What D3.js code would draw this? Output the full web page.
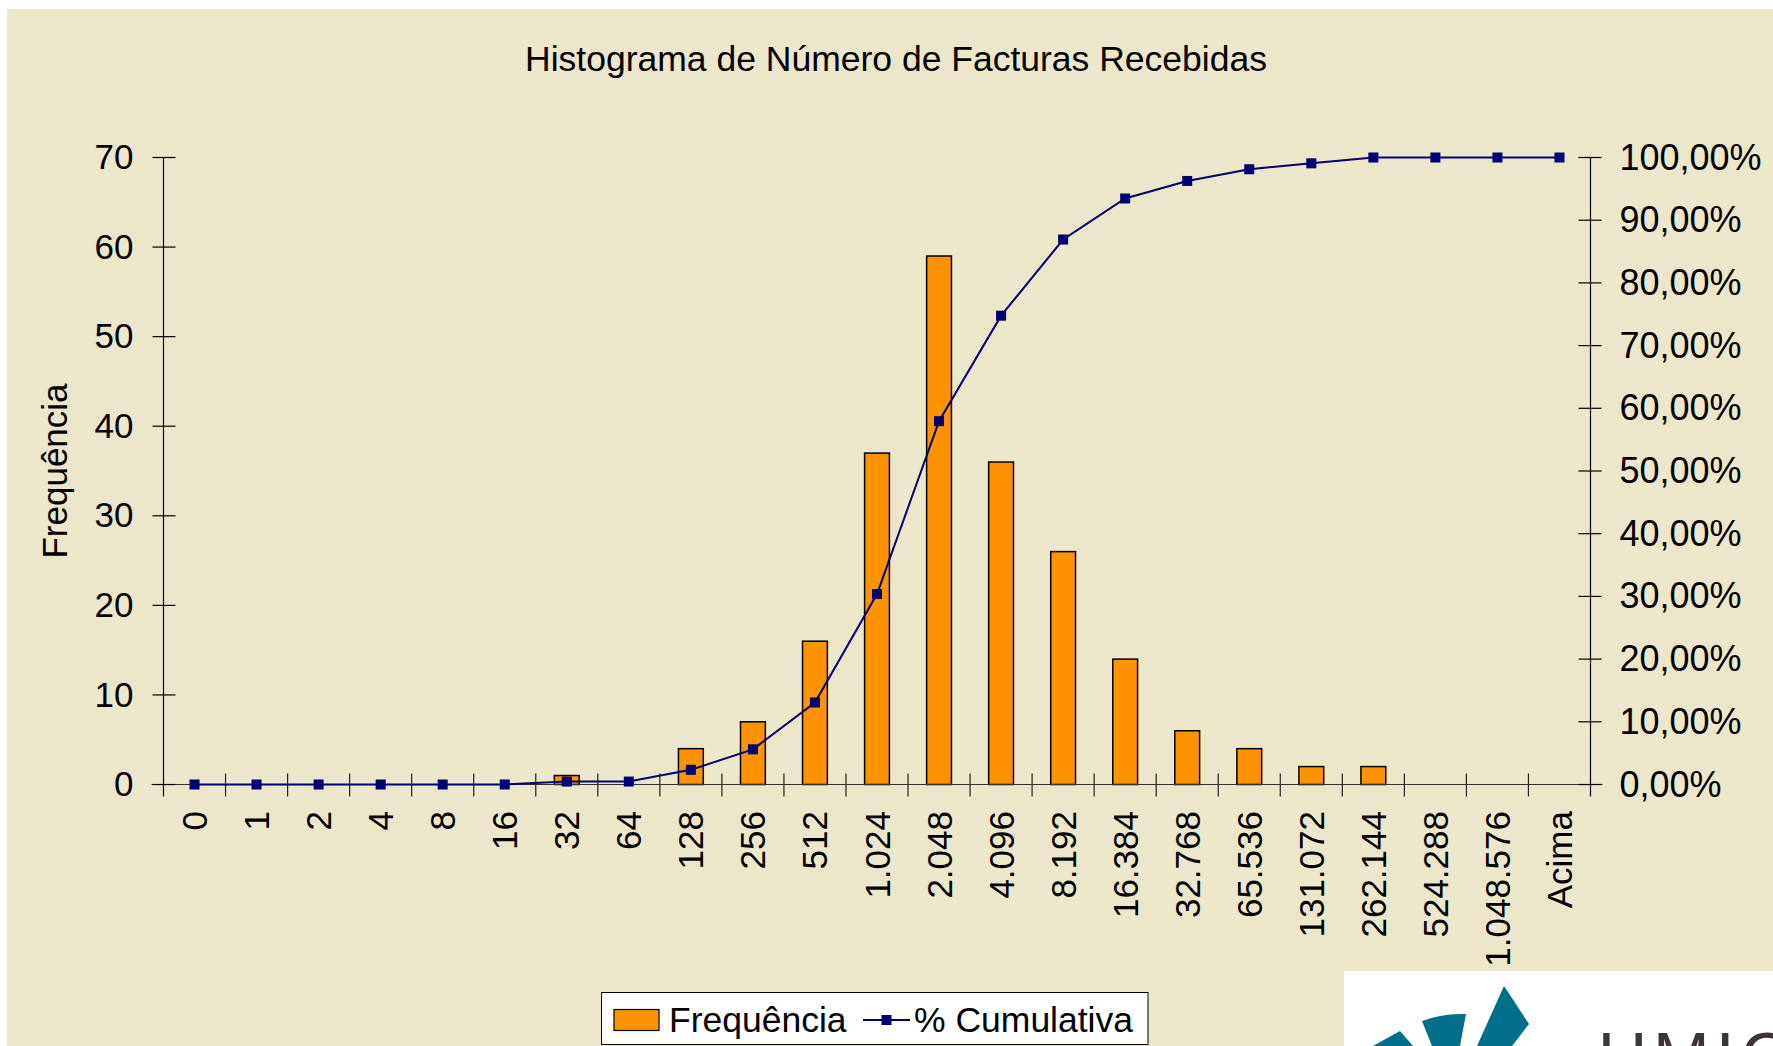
<!DOCTYPE html>
<html>
<head>
<meta charset="utf-8">
<script src="https://cdn.jsdelivr.net/npm/d3@7"></script>
<style>
  html, body { margin: 0; padding: 0; background: #ffffff; }
  svg { display: block; }
  text { font-family: "Liberation Sans", Arial, sans-serif; fill: #000; }
</style>
</head>
<body>
<svg id="chart" width="1773" height="1046"></svg>
<script>
// ---- data ----
const categories = ["0","1","2","4","8","16","32","64","128","256","512","1.024","2.048","4.096","8.192","16.384","32.768","65.536","131.072","262.144","524.288","1.048.576","Acima"];
const frequencies = [0,0,0,0,0,0,1,0,4,7,16,37,59,36,26,14,6,4,2,2,0,0,0];
const cumulative = [0,0,0,0,0,0,0.0047,0.0047,0.0234,0.0561,0.1308,0.3037,0.5794,0.7477,0.8692,0.9346,0.9626,0.9813,0.9907,1,1,1,1];
const leftTicks = [0,10,20,30,40,50,60,70];
const rightTicks = [0,0.1,0.2,0.3,0.4,0.5,0.6,0.7,0.8,0.9,1];
const rightTickLabels = ["0,00%","10,00%","20,00%","30,00%","40,00%","50,00%","60,00%","70,00%","80,00%","90,00%","100,00%"];
const titleText = "Histograma de Número de Facturas Recebidas";
const yTitle = "Frequência";
const legendLabels = ["Frequência", "% Cumulativa"];

// ---- layout ----
const W = 1773, H = 1046;
const plot = { left: 163.5, right: 1590.5, top: 157.5, bottom: 784.5 };
const FS = 35;
const barColor = "#FF9200";
const lineColor = "#000070";
const bg = "#ECE6CB";

const svg = d3.select("#chart");

// background
svg.append("rect").attr("x", 0).attr("y", 0).attr("width", W).attr("height", H).attr("fill", "#fff");
svg.append("rect").attr("x", 7).attr("y", 9).attr("width", W - 7).attr("height", H - 9).attr("fill", bg);

// scales
const x = d3.scaleBand().domain(categories).range([plot.left, plot.right]).padding(0);
const y = d3.scaleLinear().domain([0, 70]).range([plot.bottom, plot.top]);
const y2 = d3.scaleLinear().domain([0, 1]).range([plot.bottom, plot.top]);
const bw = x.bandwidth() * 0.4;

// title
svg.append("text").attr("x", 896).attr("y", 71)
  .attr("text-anchor", "middle").style("font-size", "35.5px").text(titleText);

// bars
svg.append("g").selectAll("rect").data(categories).join("rect")
  .attr("x", d => x(d) + x.bandwidth() / 2 - bw / 2)
  .attr("y", (d, i) => y(frequencies[i]))
  .attr("width", bw)
  .attr("height", (d, i) => y(0) - y(frequencies[i]))
  .attr("fill", barColor)
  .attr("stroke", "#000")
  .attr("stroke-width", 1.5)
  .attr("display", (d, i) => frequencies[i] > 0 ? null : "none");

// axes lines
const axG = svg.append("g").attr("stroke", "#000").attr("stroke-width", 1.2);
axG.append("line").attr("x1", plot.left - 12).attr("x2", plot.right + 12).attr("y1", y(0)).attr("y2", y(0)).attr("stroke", "#333");
axG.append("line").attr("x1", plot.left).attr("x2", plot.left).attr("y1", plot.top).attr("y2", plot.bottom + 12);
axG.append("line").attr("x1", plot.right).attr("x2", plot.right).attr("y1", plot.top).attr("y2", plot.bottom + 12);

// left ticks (crossing)
axG.selectAll(".lt").data(leftTicks).join("line")
  .attr("x1", plot.left - 11).attr("x2", plot.left + 12)
  .attr("y1", d => y(d)).attr("y2", d => y(d));
// right ticks (crossing)
axG.selectAll(".rt").data(rightTicks).join("line")
  .attr("x1", plot.right - 12).attr("x2", plot.right + 11)
  .attr("y1", d => y2(d)).attr("y2", d => y2(d));
// category boundary ticks
axG.selectAll(".ct").data(categories.slice(1)).join("line")
  .attr("x1", d => x(d)).attr("x2", d => x(d))
  .attr("y1", y(0) - 11).attr("y2", y(0) + 12)
  .attr("stroke", "#222");

// left axis labels via d3 axis
const leftAxis = svg.append("g").attr("transform", `translate(${plot.left},0)`)
  .call(d3.axisLeft(y).tickValues(leftTicks).tickSize(0).tickPadding(30).tickFormat(d3.format("d")));
leftAxis.select(".domain").remove();
leftAxis.selectAll("text").style("font-size", FS + "px").style("font-family", "Liberation Sans, Arial, sans-serif").attr("fill", "#000");

const rightAxis = svg.append("g").attr("transform", `translate(${plot.right},0)`)
  .call(d3.axisRight(y2).tickValues(rightTicks).tickSize(0).tickPadding(29).tickFormat((d, i) => rightTickLabels[i]));
rightAxis.select(".domain").remove();
rightAxis.selectAll("text").style("font-size", "36px").style("font-family", "Liberation Sans, Arial, sans-serif").attr("fill", "#000");

// x labels rotated
svg.append("g").selectAll("text").data(categories).join("text")
  .attr("transform", d => `translate(${x(d) + x.bandwidth() / 2},811) rotate(-90)`)
  .attr("text-anchor", "end")
  .attr("dominant-baseline", "central")
  .style("font-size", FS + "px")
  .text(d => d);

// y title
svg.append("text")
  .attr("transform", `translate(54,${(plot.top + plot.bottom) / 2}) rotate(-90)`)
  .attr("text-anchor", "middle").attr("dominant-baseline", "central")
  .style("font-size", FS + "px").text(yTitle);

// cumulative line
const line = d3.line().x((d, i) => x(categories[i]) + x.bandwidth() / 2).y(d => y2(d));
svg.append("path").datum(cumulative).attr("d", line)
  .attr("fill", "none").attr("stroke", lineColor).attr("stroke-width", 2);
const ms = 10;
svg.append("g").selectAll("rect").data(cumulative).join("rect")
  .attr("x", (d, i) => x(categories[i]) + x.bandwidth() / 2 - ms / 2)
  .attr("y", d => y2(d) - ms / 2)
  .attr("width", ms).attr("height", ms)
  .attr("fill", lineColor);

// legend
const lg = svg.append("g");
lg.append("rect").attr("x", 601.5).attr("y", 992.5).attr("width", 546.5).attr("height", 52)
  .attr("fill", "#fff").attr("stroke", "#000").attr("stroke-width", 1);
lg.append("rect").attr("x", 614).attr("y", 1009.5).attr("width", 45).attr("height", 21)
  .attr("fill", barColor).attr("stroke", "#000").attr("stroke-width", 1.2);
lg.append("text").attr("x", 669).attr("y", 1031.5).style("font-size", "35.5px").text(legendLabels[0]);
lg.append("line").attr("x1", 863).attr("x2", 910).attr("y1", 1020).attr("y2", 1020)
  .attr("stroke", lineColor).attr("stroke-width", 2);
lg.append("rect").attr("x", 886.5 - 5).attr("y", 1015).attr("width", 10).attr("height", 10).attr("fill", lineColor);
lg.append("text").attr("x", 914).attr("y", 1031.5).style("font-size", "35.5px").text(legendLabels[1]);

// logo in bottom-right corner (partially visible in the reference)
const logo = svg.append("g");
logo.append("rect").attr("x", 1344).attr("y", 971).attr("width", W - 1344).attr("height", H - 971).attr("fill", "#fff");
const teal = "#00708A";
logo.append("path").attr("d", "M1504,986 L1529,1024 L1512,1046 L1477,1046 Z").attr("fill", teal);
logo.append("path").attr("d", "M1422,1021 Q1444,1013 1466,1014 L1460,1046 L1432,1046 Z").attr("fill", teal);
logo.append("path").attr("d", "M1373,1046 L1400,1031 L1413,1046 Z").attr("fill", teal);
logo.append("text").attr("x", 1598).attr("y", 1080).style("font-size", "68px").style("letter-spacing", "6px")
  .attr("fill", "#3e3636").style("fill", "#3e3636").text("UMIC");
</script>
</body>
</html>
